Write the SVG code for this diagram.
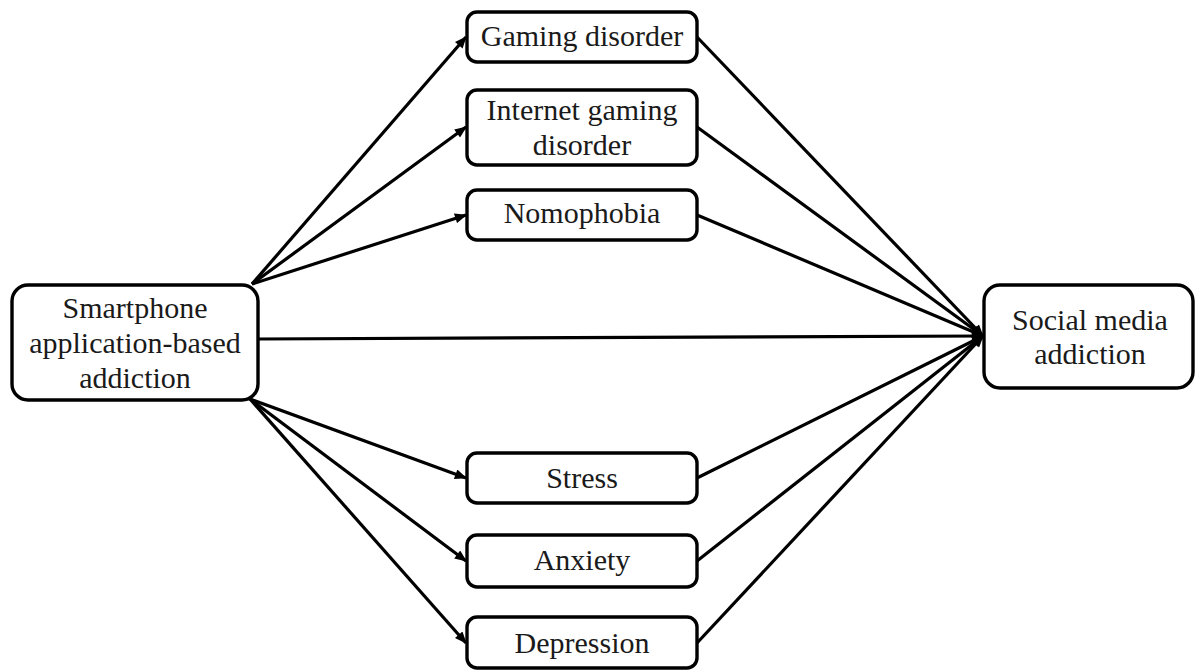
<svg xmlns="http://www.w3.org/2000/svg" width="1195" height="670" viewBox="0 0 1195 670">
<defs>
<marker id="ah" viewBox="0 0 12 10" refX="11" refY="5" markerWidth="13" markerHeight="10" markerUnits="userSpaceOnUse" orient="auto">
<path d="M0,0 L12,5 L0,10 z" fill="#000"/>
</marker>
<style>
.box{fill:#fff;stroke:#000;stroke-width:3.4}
.t{font-family:"Liberation Serif","Times New Roman",serif;font-size:30px;fill:#1a1a1a;text-anchor:middle}
.c{stroke:#000;stroke-width:3.2;fill:none;marker-end:url(#ah)}
</style>
</defs>
<rect width="1195" height="670" fill="#fff"/>
<g id="connectors">
<line class="c" x1="252" y1="284" x2="466" y2="37"/>
<line class="c" x1="252" y1="284" x2="466" y2="127"/>
<line class="c" x1="252" y1="284" x2="466" y2="215"/>
<line class="c" x1="250" y1="399" x2="466" y2="478"/>
<line class="c" x1="250" y1="399" x2="466" y2="561"/>
<line class="c" x1="250" y1="399" x2="466" y2="643"/>
<line class="c" x1="258" y1="339" x2="983" y2="336"/>
<line class="c" x1="697" y1="37" x2="983" y2="336"/>
<line class="c" x1="697" y1="127" x2="983" y2="336"/>
<line class="c" x1="697" y1="215" x2="983" y2="336"/>
<line class="c" x1="697" y1="478" x2="983" y2="336"/>
<line class="c" x1="697" y1="561" x2="983" y2="336"/>
<line class="c" x1="697" y1="643" x2="983" y2="336"/>
</g>
<g id="smartphone">
<rect class="box" x="12" y="285" width="246" height="115" rx="16"/>
<text class="t" x="135" y="318">Smartphone</text>
<text class="t" x="135" y="353">application-based</text>
<text class="t" x="135" y="388">addiction</text>
</g>
<g id="gaming">
<rect class="box" x="467" y="12" width="230" height="50" rx="10"/>
<text class="t" x="582" y="46">Gaming disorder</text>
</g>
<g id="internet">
<rect class="box" x="467" y="90" width="230" height="75" rx="10"/>
<text class="t" x="582" y="120">Internet gaming</text>
<text class="t" x="582" y="155">disorder</text>
</g>
<g id="nomophobia">
<rect class="box" x="467" y="190" width="230" height="50" rx="10"/>
<text class="t" x="582" y="223">Nomophobia</text>
</g>
<g id="stress">
<rect class="box" x="467" y="453" width="230" height="50" rx="10"/>
<text class="t" x="582" y="488">Stress</text>
</g>
<g id="anxiety">
<rect class="box" x="467" y="535" width="230" height="52" rx="10"/>
<text class="t" x="582" y="570">Anxiety</text>
</g>
<g id="depression">
<rect class="box" x="467" y="617" width="230" height="51" rx="10"/>
<text class="t" x="582" y="653">Depression</text>
</g>
<g id="social">
<rect class="box" x="984" y="285" width="209" height="103" rx="16"/>
<text class="t" x="1090" y="330">Social media</text>
<text class="t" x="1090" y="364">addiction</text>
</g>
</svg>
